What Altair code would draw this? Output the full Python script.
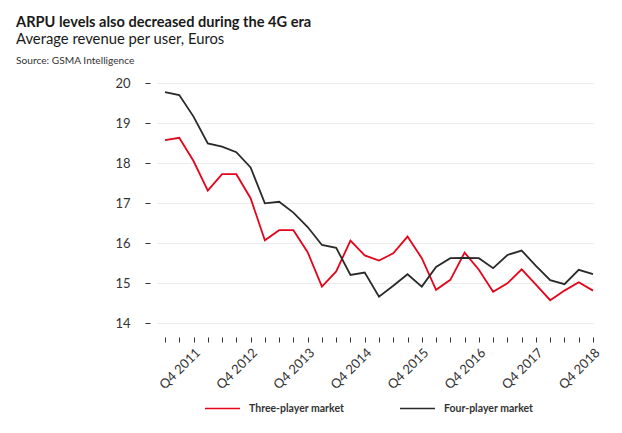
import altair as alt
import pandas as pd

quarters = [
    "Q2 2011", "Q3 2011", "Q4 2011",
    "Q1 2012", "Q2 2012", "Q3 2012", "Q4 2012",
    "Q1 2013", "Q2 2013", "Q3 2013", "Q4 2013",
    "Q1 2014", "Q2 2014", "Q3 2014", "Q4 2014",
    "Q1 2015", "Q2 2015", "Q3 2015", "Q4 2015",
    "Q1 2016", "Q2 2016", "Q3 2016", "Q4 2016",
    "Q1 2017", "Q2 2017", "Q3 2017", "Q4 2017",
    "Q1 2018", "Q2 2018", "Q3 2018", "Q4 2018",
]
tick_labels = [q if q.startswith("Q4") else "" for q in quarters]

three_player = [18.57, 18.63, 18.05, 17.31, 17.72, 17.72, 17.12, 16.07, 16.32, 16.32,
                15.77, 14.91, 15.29, 16.06, 15.69, 15.56, 15.74, 16.16, 15.62, 14.83,
                15.08, 15.76, 15.33, 14.78, 14.99, 15.34, 14.96, 14.57, 14.81, 15.02, 14.81]
four_player = [19.77, 19.70, 19.16, 18.49, 18.41, 18.27, 17.89, 16.99, 17.03, 16.76,
               16.40, 15.95, 15.88, 15.20, 15.26, 14.66, 14.93, 15.22, 14.91, 15.40,
               15.62, 15.63, 15.62, 15.37, 15.70, 15.81, 15.43, 15.07, 14.97, 15.33, 15.22]

series_names = ["Three-player market", "Four-player market"]
series_colors = ["#e3051b", "#2a2a2a"]

rows = []
for i, q in enumerate(quarters):
    rows.append({"idx": i, "quarter": q, "series": series_names[0], "value": three_player[i]})
    rows.append({"idx": i, "quarter": q, "series": series_names[1], "value": four_player[i]})
df = pd.DataFrame(rows)

FONT = "Lato"
label_expr = "[" + ",".join("'" + t + "'" for t in tick_labels) + "][datum.value]"

lines = alt.Chart(df).mark_line(strokeWidth=1.8).encode(
    x=alt.X("idx:Q",
            scale=alt.Scale(domain=[-0.56, 30], nice=False, zero=False),
            axis=alt.Axis(values=list(range(len(quarters))), labelExpr=label_expr,
                          title=None, grid=False, domain=False, tickSize=5,
                          tickColor="#333333", offset=14, labelAngle=-45,
                          labelPadding=4, labelFont=FONT, labelFontSize=13,
                          labelColor="#333333", labelOverlap=False)),
    y=alt.Y("value:Q",
            scale=alt.Scale(domain=[14, 20], nice=False, zero=False),
            axis=alt.Axis(values=[14, 15, 16, 17, 18, 19, 20], title=None, domain=False,
                          tickSize=5, tickColor="#333333", offset=7, labelPadding=15,
                          labelFont=FONT, labelFontSize=13, labelColor="#333333",
                          grid=True, gridColor="#ebebeb", gridWidth=1.2)),
    color=alt.Color("series:N",
                    scale=alt.Scale(domain=series_names, range=series_colors),
                    legend=alt.Legend(orient="none", legendX=47, legendY=307,
                                      direction="horizontal", title=None,
                                      symbolType="stroke", symbolSize=1225,
                                      symbolStrokeWidth=1.5, labelOffset=8,
                                      labelFont=FONT, labelFontSize=10.5,
                                      labelFontWeight="bold", labelColor="#333333",
                                      columnPadding=52)),
    detail="series:N",
)

title = alt.Chart(pd.DataFrame({"t": ["ARPU levels also decreased during the 4G era"]})).mark_text(
    align="left", baseline="alphabetic", font=FONT, fontSize=14.6, fontWeight="bold", color="#1a1a1a"
).encode(x=alt.value(-141), y=alt.value(-56), text="t:N")

subtitle = alt.Chart(pd.DataFrame({"t": ["Average revenue per user, Euros"]})).mark_text(
    align="left", baseline="alphabetic", font=FONT, fontSize=14.8, color="#1a1a1a"
).encode(x=alt.value(-141), y=alt.value(-39), text="t:N")

source = alt.Chart(pd.DataFrame({"t": ["Source: GSMA Intelligence"]})).mark_text(
    align="left", baseline="alphabetic", font=FONT, fontSize=10.2, color="#333333"
).encode(x=alt.value(-141), y=alt.value(-19), text="t:N")

chart = alt.layer(lines, title, subtitle, source).properties(
    width=436, height=240,
    autosize=alt.AutoSizeParams(type="none"),
    padding={"left": 149, "top": 75, "right": 21, "bottom": 102},
).configure_view(stroke=None)

chart.save("out.html", embed_options={"renderer": "svg", "actions": False})
